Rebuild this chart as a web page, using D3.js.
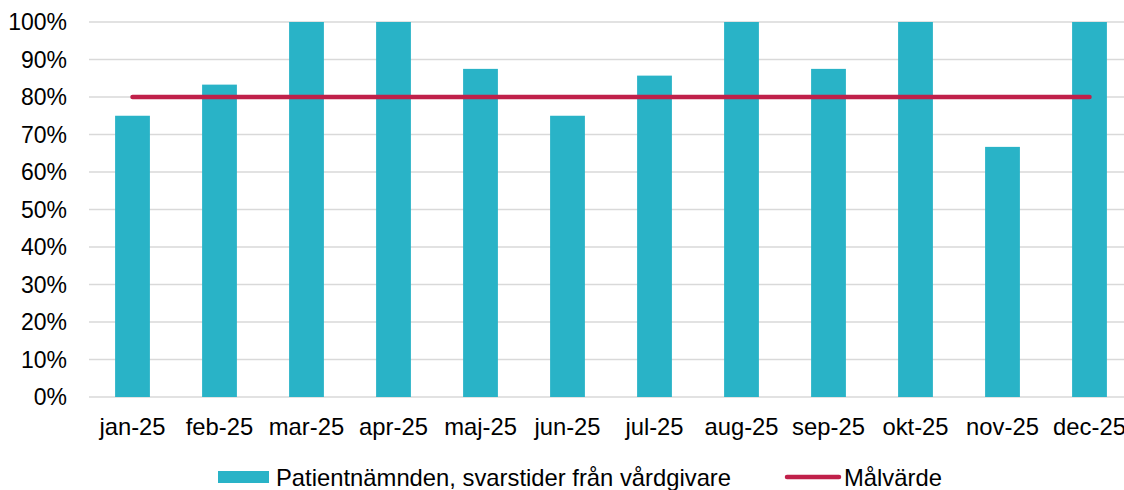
<!DOCTYPE html>
<html>
<head>
<meta charset="utf-8">
<script src="https://cdn.jsdelivr.net/npm/d3@7"></script>
<style>
  body { margin: 0; background: #fff; }
  svg { display: block; font-family: "Liberation Sans", Arial, sans-serif; }
</style>
</head>
<body>
<svg id="chart" width="1124" height="490"></svg>
<script>
  const months = ['jan-25', 'feb-25', 'mar-25', 'apr-25', 'maj-25', 'jun-25',
                  'jul-25', 'aug-25', 'sep-25', 'okt-25', 'nov-25', 'dec-25'];
  const responses = [75, 83.3, 100, 100, 87.5, 75, 85.7, 100, 87.5, 100, 66.7, 100];
  const target = [80, 80, 80, 80, 80, 80, 80, 80, 80, 80, 80, 80];
  const yTicks = [0, 10, 20, 30, 40, 50, 60, 70, 80, 90, 100];
  const seriesNames = ['Patientnämnden, svarstider från vårdgivare', 'Målvärde'];

  const svg = d3.select('#chart');
  const plotLeft = 89, plotRight = 1133, plotTop = 22, plotBottom = 397;

  const x = d3.scaleBand().domain(months).range([plotLeft, plotRight])
    .paddingInner(0.6).paddingOuter(0.3);
  const y = d3.scaleLinear().domain([0, 100]).range([plotBottom, plotTop]);

  // gridlines
  svg.append('g')
    .selectAll('line')
    .data(yTicks)
    .enter().append('line')
    .attr('x1', plotLeft)
    .attr('x2', 1124)
    .attr('y1', d => y(d))
    .attr('y2', d => y(d))
    .attr('stroke', '#d9d9d9')
    .attr('stroke-width', 1.5);

  // y labels
  svg.append('g')
    .selectAll('text')
    .data(yTicks)
    .enter().append('text')
    .attr('x', 67)
    .attr('y', d => y(d))
    .attr('dy', '0.36em')
    .attr('text-anchor', 'end')
    .attr('font-size', 23)
    .attr('fill', '#000')
    .text(d => d + '%');

  // bars
  svg.append('g')
    .selectAll('rect')
    .data(responses)
    .enter().append('rect')
    .attr('x', (d, i) => x(months[i]))
    .attr('width', x.bandwidth())
    .attr('y', d => y(d))
    .attr('height', d => y(0) - y(d))
    .attr('fill', '#29b3c7');

  // target line
  const line = d3.line()
    .x((d, i) => x(months[i]) + x.bandwidth() / 2)
    .y(d => y(d));
  svg.append('path')
    .attr('d', line(target))
    .attr('fill', 'none')
    .attr('stroke', '#c0204a')
    .attr('stroke-width', 4.5)
    .attr('stroke-linecap', 'round');

  // x labels
  svg.append('g')
    .selectAll('text')
    .data(months)
    .enter().append('text')
    .attr('x', d => x(d) + x.bandwidth() / 2)
    .attr('y', 426)
    .attr('dy', '0.36em')
    .attr('text-anchor', 'middle')
    .attr('font-size', 23.8)
    .attr('fill', '#000')
    .text(d => d);

  // legend
  const legend = svg.append('g').attr('font-size', 23.8);
  legend.append('rect')
    .attr('x', 218).attr('y', 471)
    .attr('width', 51).attr('height', 12)
    .attr('fill', '#29b3c7');
  legend.append('text')
    .attr('x', 276).attr('y', 477).attr('dy', '0.36em')
    .text(seriesNames[0]);
  legend.append('line')
    .attr('x1', 787).attr('x2', 839)
    .attr('y1', 477).attr('y2', 477)
    .attr('stroke', '#c0204a')
    .attr('stroke-width', 4.5)
    .attr('stroke-linecap', 'round');
  legend.append('text')
    .attr('x', 844).attr('y', 477).attr('dy', '0.36em')
    .text(seriesNames[1]);
</script>
</body>
</html>
